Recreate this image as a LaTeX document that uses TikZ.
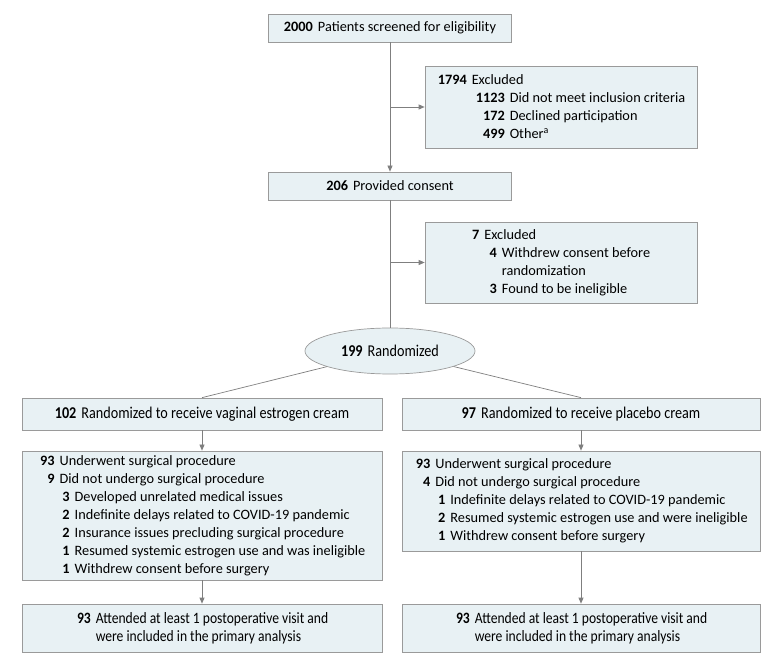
\documentclass[tikz,border=0pt]{standalone}
\usepackage{fontspec}
\setmainfont{Carlito}
\newfontfamily\condfont[FakeStretch=0.86]{Carlito}
\usetikzlibrary{arrows.meta,shapes.geometric}
\definecolor{boxfill}{HTML}{E8F1F4}
\definecolor{boxline}{HTML}{9A9A9A}
\definecolor{arrowc}{HTML}{7F7F7F}
\newcommand{\ent}[3]{\makebox[#1][r]{\textbf{#2}}\hspace{5pt}#3}
\newcommand{\mainsz}{\fontsize{14.3}{18}\selectfont}
\newcommand{\condsz}{\condfont\fontsize{16.5}{18}\selectfont}
\newcommand{\condszb}{\condfont\fontsize{15.8}{18}\selectfont}
\begin{document}
\begin{tikzpicture}[x=1pt,y=-1pt,
  box/.style={draw=boxline, fill=boxfill, line width=0.7pt, inner sep=0pt, font=\mainsz},
  cbox/.style={box, font=\condsz},
  cboxb/.style={box, font=\condszb},
  conn/.style={draw=arrowc, line width=0.7pt},
  arr/.style={conn, -{Triangle[width=5pt,length=6pt]}}]
\useasboundingbox (0,0) rectangle (780,668);
% nodes
\node[box, minimum width=243pt, minimum height=28pt] (screen) at (390,28)
  {\textbf{2000}\hspace{5pt}Patients screened for eligibility};
\node[box, minimum width=272pt, minimum height=82pt, align=left] (ex1) at (561,107)
  {\ent{30pt}{1794}{Excluded}\\
   \ent{68pt}{1123}{Did not meet inclusion criteria}\\
   \ent{68pt}{172}{Declined participation}\\
   \ent{68pt}{499}{Other\textsuperscript{a}}};
\node[box, minimum width=243pt, minimum height=28pt] (consent) at (390,186)
  {\textbf{206}\hspace{5pt}Provided consent};
\node[box, minimum width=272pt, minimum height=81pt, align=left] (ex2) at (561,262.5)
  {\ent{7.5pt}{7}{Excluded}\\
   \ent{25pt}{4}{Withdrew consent before}\\
   \ent{25pt}{}{randomization}\\
   \ent{25pt}{3}{Found to be ineligible}};
\node[cbox, ellipse, minimum width=170pt, minimum height=46pt] (rand) at (390,351)
  {\textbf{199}\hspace{5pt}Randomized};
\node[cbox, minimum width=360pt, minimum height=32pt] (lr) at (202,414)
  {\textbf{102}\hspace{5pt}Randomized to receive vaginal estrogen cream};
\node[cbox, minimum width=358pt, minimum height=32pt] (rr) at (581,414)
  {\textbf{97}\hspace{5pt}Randomized to receive placebo cream};
\node[box, minimum width=360pt, minimum height=129pt, align=left] (ls) at (202,515.5)
  {\ent{16pt}{93}{Underwent surgical procedure}\\
   \ent{16pt}{9}{Did not undergo surgical procedure}\\
   \ent{31pt}{3}{Developed unrelated medical issues}\\
   \ent{31pt}{2}{Indefinite delays related to COVID-19 pandemic}\\
   \ent{31pt}{2}{Insurance issues precluding surgical procedure}\\
   \ent{31pt}{1}{Resumed systemic estrogen use and was ineligible}\\
   \ent{31pt}{1}{Withdrew consent before surgery}};
\node[box, minimum width=358pt, minimum height=100pt, align=left] (rs) at (581,501)
  {\ent{16pt}{93}{Underwent surgical procedure}\\
   \ent{16pt}{4}{Did not undergo surgical procedure}\\
   \ent{31pt}{1}{Indefinite delays related to COVID-19 pandemic}\\
   \ent{31pt}{2}{Resumed systemic estrogen use and were ineligible}\\
   \ent{31pt}{1}{Withdrew consent before surgery}};
\node[cboxb, minimum width=360pt, minimum height=48pt, align=left] (la) at (202,628)
  {\ent{15pt}{93}{Attended at least 1 postoperative visit and}\\
   \ent{15pt}{}{were included in the primary analysis}};
\node[cboxb, minimum width=358pt, minimum height=48pt, align=left] (ra) at (581,628)
  {\ent{15pt}{93}{Attended at least 1 postoperative visit and}\\
   \ent{15pt}{}{were included in the primary analysis}};
% branch points
\coordinate (b1) at (consent.north |- ex1.west);
\coordinate (b2) at (consent.south |- ex2.west);
% connectors
\draw[arr] (screen.south) -- (consent.north);
\draw[arr] (b1) -- (ex1.west);
\draw[conn] (consent.south) -- (rand.north);
\draw[arr] (b2) -- (ex2.west);
\draw[conn] (rand) -- (lr.north);
\draw[conn] (rand) -- (rr.north);
\draw[arr] (lr.south) -- (ls.north);
\draw[arr] (rr.south) -- (rs.north);
\draw[arr] (ls.south) -- (la.north);
\draw[arr] (rs.south) -- (ra.north);
\end{tikzpicture}
\end{document}
